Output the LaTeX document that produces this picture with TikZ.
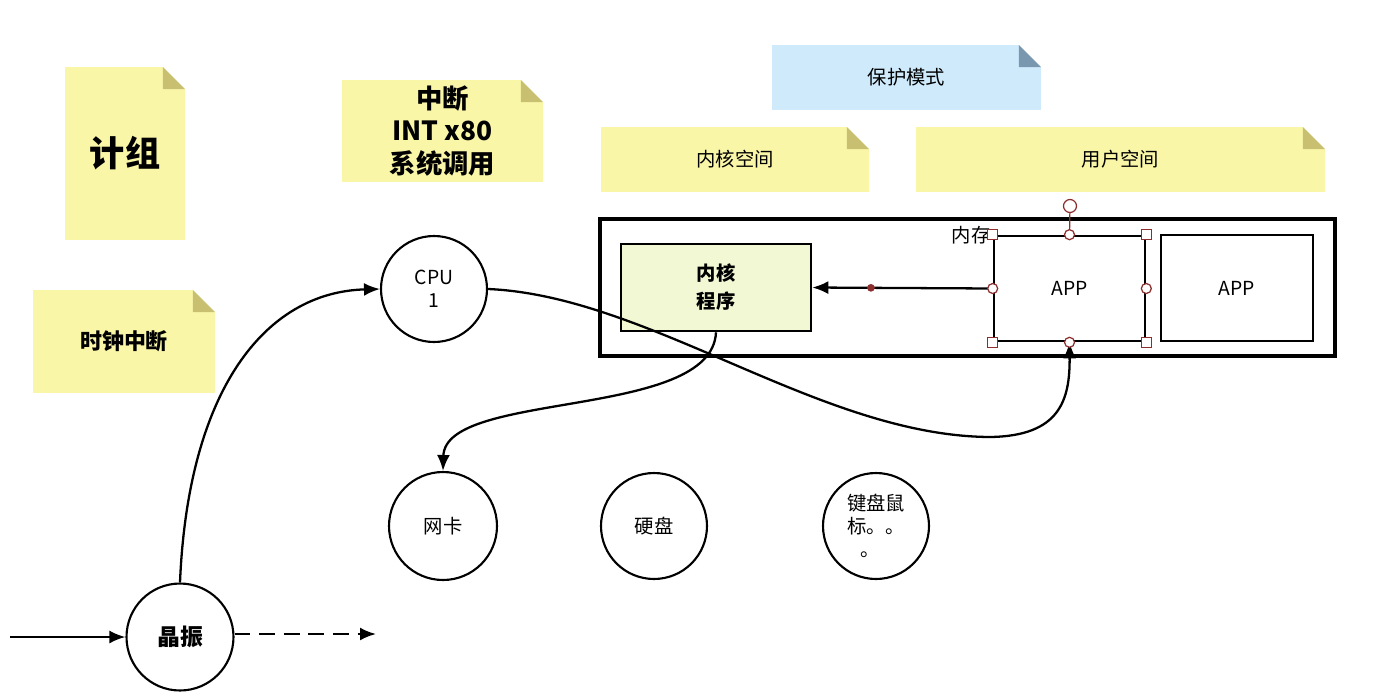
\documentclass[tikz,border=0pt]{standalone}
\usepackage{fontspec}
\setmainfont{Noto Sans CJK SC}
\usepackage{xcolor}
\usepackage{tikz}
\usetikzlibrary{calc,arrows.meta,positioning,shapes}
\definecolor{notey}{RGB}{250,246,168}
\definecolor{foldy}{RGB}{200,192,112}
\definecolor{noteb}{RGB}{206,234,251}
\definecolor{foldb}{RGB}{122,151,176}
\definecolor{kfill}{RGB}{242,248,212}
\definecolor{hred}{RGB}{140,46,46}

\begin{document}
\begin{tikzpicture}[x=0.02cm,y=-0.02cm,
    note/.style={fill=notey,inner sep=2pt,align=center,
      path picture={
        \fill[white] (path picture bounding box.north east) -- ([xshift=-0.44cm]path picture bounding box.north east) -- ([yshift=-0.44cm]path picture bounding box.north east) -- cycle;
        \fill[#1] ([xshift=-0.44cm]path picture bounding box.north east) -- ([xshift=-0.44cm,yshift=-0.44cm]path picture bounding box.north east) -- ([yshift=-0.44cm]path picture bounding box.north east) -- cycle;}},
    note/.default=foldy,
    dev/.style={circle,draw=black,line width=1.2pt,fill=white,inner sep=1pt,align=center,font=\fontsize{11}{13}\selectfont},
    box/.style={rectangle,draw=black,line width=1.5pt,fill=white,align=center,font=\fontsize{11}{13}\selectfont},
    arr/.style={-{Latex[length=3.2mm,width=2.6mm]},line width=1.3pt,draw=black},
    hsq/.style={rectangle,draw=hred,fill=white,line width=0.7pt,minimum size=0.2cm,inner sep=0pt},
    hci/.style={circle,draw=hred,fill=white,line width=0.7pt,minimum size=0.2cm,inner sep=0pt}]
   \useasboundingbox (0,0) rectangle (1373,697);
   % notes
   \node[note,minimum width=2.4cm,minimum height=3.46cm,font=\fontsize{20}{24}\selectfont\bfseries] (jz) at (125,153.5) {计组};
   \node[note,minimum width=4.02cm,minimum height=2.04cm,font=\fontsize{15}{18.5}\selectfont\bfseries] (intr) at (442.5,131) {中断\\INT x80\\系统调用};
   \node[note,minimum width=3.64cm,minimum height=2.06cm,font=\fontsize{12.5}{15}\selectfont\bfseries] (clk) at (124,341.5) {时钟中断};
   \node[note=foldb,fill=noteb,minimum width=5.38cm,minimum height=1.3cm,font=\fontsize{11}{13}\selectfont] (prot) at (906.5,77.5) {保护模式};
   \node[note,minimum width=5.36cm,minimum height=1.3cm,font=\fontsize{11}{13}\selectfont] (ksp) at (735,159.5) {内核空间};
   \node[note,minimum width=8.18cm,minimum height=1.3cm,font=\fontsize{11}{13}\selectfont] (usp) at (1120.5,159.5) {用户空间};
   % memory
   \node[box,line width=1.8pt,minimum width=14.7cm,minimum height=2.74cm] (mem) at (967.5,287.5) {};
   \node[box,fill=kfill,minimum width=3.8cm,minimum height=1.74cm,font=\fontsize{11}{16}\selectfont\bfseries] (kern) at (716,287.5) {内核\\程序};
   \node[box,minimum width=3.02cm,minimum height=2.1cm] (app1) at (1069.5,288.5) {APP};
   \node[box,minimum width=3.04cm,minimum height=2.12cm] (app2) at (1237,288) {APP};
   \node[left=0pt of app1.north west,inner sep=1pt,font=\fontsize{11}{13}\selectfont] (memlbl) {内存};
   % devices
   \node[dev,minimum size=2.12cm] (cpu) at (434,289) {CPU\\1};
   \node[dev,minimum size=2.16cm] (nic) at (443,526) {网卡};
   \node[dev,minimum size=2.12cm] (disk) at (654,526) {硬盘};
   \node[dev,minimum size=2.12cm,align=left] (kbd) at (876,526) {键盘鼠\\标。。\\\ \ \ 。};
   \node[dev,minimum size=2.14cm,font=\fontsize{13}{15}\selectfont\bfseries] (osc) at (180,637) {晶振};
   \coordinate (src) at (10,637);
   \coordinate (dst) at (376,634);
   % connectors
   \draw[arr] (src) -- (osc.west);
   \draw[arr,dashed,dash pattern=on 9pt off 5pt] (osc.east |- dst) -- (dst);
   \draw[arr] (osc.north) .. controls (188,390) and (265,292) .. (cpu.west);
   \draw[arr] (kern.south) .. controls (712,420) and (445,390) .. (nic.north);
   \draw[arr] (cpu.east) .. controls (650,296) and (820,436) .. (990,437) .. controls (1060,436) and (1070,400) .. (app1.south);
   \draw[arr] (app1.west) -- (kern.east);
   \fill[hred] ($(app1.west)!0.675!(kern.east)$) circle (2.2pt);
   % selection handles
   \coordinate (rot) at (1070,206);
   \draw[hred,line width=0.7pt] (app1.north) -- (rot);
   \node[hci,minimum size=0.26cm] at (rot) {};
   \foreach \a in {north west,north east,south west,south east}
     \node[hsq] at (app1.\a) {};
   \foreach \a in {north,south,east,west}
     \node[hci] at (app1.\a) {};
\end{tikzpicture}
\end{document}
